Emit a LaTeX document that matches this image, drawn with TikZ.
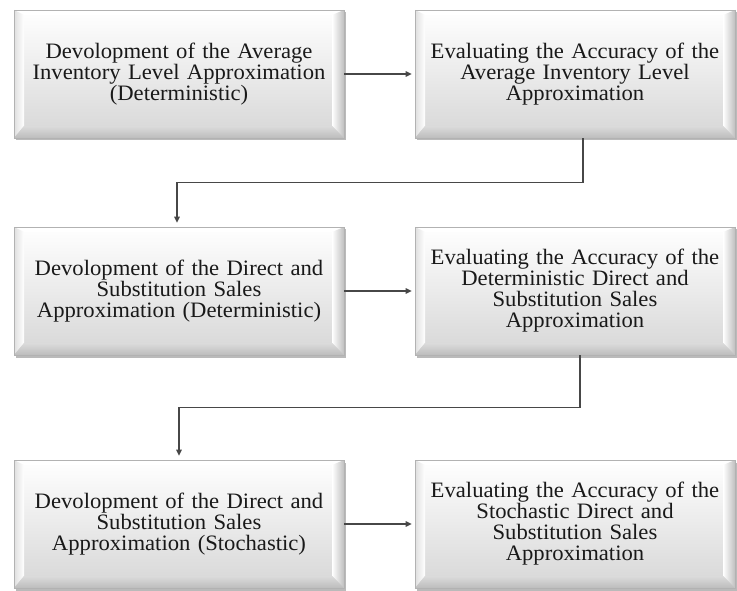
\documentclass[tikz,border=0pt]{standalone}
\usepackage{fontspec}
\setmainfont{Liberation Serif}[FakeStretch=1.03]
\usetikzlibrary{arrows.meta,shadows,calc}
\tikzset{
  bevbox/.style={draw=gray!60, line width=0.6pt, top color=white, bottom color=gray!32,
    minimum height=128pt, inner sep=0pt, align=center, text=black!90,
    font=\fontsize{22}{21}\selectfont,
    drop shadow={shadow xshift=1.5pt, shadow yshift=-2.5pt, opacity=0.45, fill=black!60},
    path picture={
      \coordinate (pNW) at (path picture bounding box.north west);
      \coordinate (pSE) at (path picture bounding box.south east);
      \coordinate (pNE) at (pSE |- pNW);
      \coordinate (pSW) at (pNW |- pSE);
      \fill[white] (pNW) -- (pNE) -- ($(pNE)+(-12,5)$) -- ($(pNW)+(10,5)$) -- cycle;
      \shade[left color=gray!25, right color=white]
        (pNW) -- ($(pNW)+(10,5)$) -- ($(pSW)+(10,-12)$) -- (pSW) -- cycle;
      \shade[left color=white, right color=gray!50]
        (pNE) -- ($(pNE)+(-12,5)$) -- ($(pSE)+(-12,-12)$) -- (pSE) -- cycle;
      \shade[top color=gray!28, bottom color=gray!52]
        (pSW) -- ($(pSW)+(10,-12)$) -- ($(pSE)+(-12,-12)$) -- (pSE) -- cycle;
    }},
  lbox/.style={bevbox, minimum width=330pt, text width=314pt},
  rbox/.style={bevbox, minimum width=320pt, text width=304pt},
  arr/.style={draw=black!72, line width=1.4pt, -{Triangle[length=6pt,width=5.5pt]}}
}
\begin{document}
\begin{tikzpicture}[x=1pt,y=-1pt]
\useasboundingbox[fill=white] (0,0) rectangle (737,591);
\node[lbox] (b1) at (179,74) {Devolopment of the Average\\Inventory Level Approximation\\(Deterministic)};
\node[rbox] (b2) at (575,74) {Evaluating the Accuracy of the\\Average Inventory Level\\Approximation};
\node[lbox] (b3) at (179,291) {Devolopment of the Direct and\\Substitution Sales\\Approximation (Deterministic)};
\node[rbox] (b4) at (575,291) {Evaluating the Accuracy of the\\Deterministic Direct and\\Substitution Sales\\Approximation};
\node[lbox] (b5) at (179,524) {Devolopment of the Direct and\\Substitution Sales\\Approximation (Stochastic)};
\node[rbox] (b6) at (575,524) {Evaluating the Accuracy of the\\Stochastic Direct and\\Substitution Sales\\Approximation};

\draw[arr, shorten >=3pt] (b1.east) -- (b2.west);
\draw[arr, shorten >=3pt] (b3.east) -- (b4.west);
\draw[arr, shorten >=3pt] (b5.east) -- (b6.west);
\draw[arr, shorten >=4pt] ([xshift=8pt]b2.south) -- ++(0,44) -| ([xshift=-2pt]b3.north);
\draw[arr, shorten >=4pt] ([xshift=5pt]b4.south) -- ++(0,52) -| (b5.north);
\end{tikzpicture}
\end{document}
